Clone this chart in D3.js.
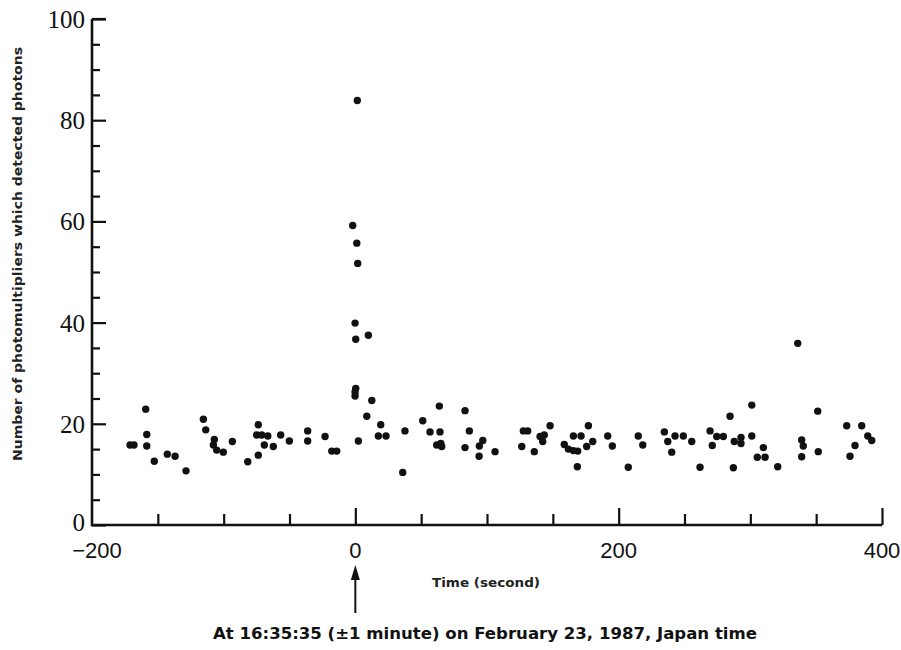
<!DOCTYPE html>
<html>
<head>
<meta charset="utf-8">
<script src="https://cdn.jsdelivr.net/npm/d3@7"></script>
<style>
  html, body { margin: 0; padding: 0; background: #fff; }
  svg { display: block; }
</style>
</head>
<body>
<svg id="chart" width="901" height="650"></svg>
<script>
// Time of each recorded event (seconds relative to the burst)
const times = [
  -171.1, -168.1, -159.2, -158.4, -158.4, -152.7, -142.8, -136.9, -128.6, -115.4,
  -113.6, -107.1, -107.8, -105.3, -100.3, -93.4, -81.7, -73.7, -74.9, -71.1,
  -66.5, -69.1, -73.7, -62.3, -56.7, -50.1, -36.2, -36.2, -23.0, -17.9,
  -14.1, 1.5, -2.0, 1.1, 1.8, -0.2, 0.3, 9.9, 0.3, -0.2,
  -0.2, 12.5, 8.7, 19.3, 17.5, 23.3, 2.3, 37.7, 36.0, 51.2,
  56.7, 63.8, 64.3, 61.8, 64.9, 65.6, 83.3, 86.6, 83.3, 96.8,
  94.2, 94.0, 106.1, 127.6, 130.9, 126.4, 135.9, 147.9, 140.3, 143.5,
  142.3, 158.7, 161.8, 165.6, 168.9, 165.6, 171.4, 177.0, 180.3, 175.7,
  168.6, 191.7, 195.2, 207.3, 214.9, 218.3, 234.7, 237.3, 242.8, 249.1,
  240.3, 255.5, 261.8, 269.4, 274.5, 279.5, 271.1, 284.6, 287.8, 292.9,
  292.9, 301.1, 301.1, 287.1, 309.9, 305.3, 311.2, 320.8, 336.0, 351.2,
  339.0, 340.2, 339.0, 351.6, 373.2, 384.6, 389.2, 392.2, 379.5, 375.7
];

// Number of photomultipliers that fired for each event
const counts = [
  15.8, 15.8, 22.9, 17.9, 15.6, 12.6, 14.0, 13.6, 10.7, 20.9,
  18.8, 16.9, 15.8, 14.8, 14.4, 16.5, 12.5, 19.8, 17.8, 17.8,
  17.6, 15.8, 13.8, 15.5, 17.8, 16.6, 18.6, 16.6, 17.5, 14.6,
  14.6, 83.9, 59.2, 55.7, 51.7, 39.9, 36.7, 37.5, 27.0, 26.3,
  25.5, 24.6, 21.5, 19.8, 17.6, 17.6, 16.6, 18.6, 10.4, 20.6,
  18.4, 23.5, 18.4, 15.8, 16.1, 15.5, 22.6, 18.6, 15.3, 16.7,
  15.6, 13.6, 14.5, 18.6, 18.6, 15.5, 14.5, 19.6, 17.5, 17.8,
  16.5, 15.9, 15.0, 14.7, 14.6, 17.6, 17.6, 19.6, 16.5, 15.5,
  11.5, 17.6, 15.6, 11.4, 17.6, 15.8, 18.4, 16.5, 17.6, 17.6,
  14.4, 16.5, 11.4, 18.6, 17.5, 17.5, 15.7, 21.5, 16.5, 17.3,
  16.1, 23.7, 17.6, 11.3, 15.3, 13.4, 13.4, 11.5, 35.9, 22.5,
  16.8, 15.6, 13.5, 14.5, 19.6, 19.6, 17.6, 16.7, 15.7, 13.6
];

const xMajorTicks = [-200, 0, 200, 400];
const xMinorTicks = [-150, -100, -50, 50, 100, 150, 250, 300, 350];
const yMajorTicks = [0, 20, 40, 60, 80, 100];
const yMinorTicks = [5, 10, 15, 25, 30, 35, 45, 50, 55, 65, 70, 75, 85, 90, 95];

const xTitle = "Time (second)";
const yTitle = "Number of photomultipliers which detected photons";
const caption = "At 16:35:35 (\u00B11 minute) on February 23, 1987, Japan time";

const svg = d3.select("#chart");

const x = d3.scaleLinear().domain([-200, 400]).range([92, 882]);
const y = d3.scaleLinear().domain([0, 100]).range([525, 19]);

const ink = "#111";
const labelFont = "'DejaVu Sans', Verdana, sans-serif";

// Left axis: ticks point into the plot, labels on the outside
const yAxisMajor = d3.axisRight(y).tickValues(yMajorTicks).tickSize(14)
  .tickFormat(d => d);
const yAxisMinor = d3.axisRight(y).tickValues(yMinorTicks).tickSize(8)
  .tickFormat("");

const gyMinor = svg.append("g").attr("transform", `translate(${x(-200)},0)`).call(yAxisMinor);
const gy = svg.append("g").attr("transform", `translate(${x(-200)},0)`).call(yAxisMajor);

[gy, gyMinor].forEach(g => {
  g.select(".domain").remove();
  g.selectAll(".tick line").attr("stroke", ink).attr("stroke-width", 2.2);
});
gy.selectAll(".tick text")
  .attr("x", -7)
  .attr("dy", d => d === 0 ? "0.2em" : "0.34em")
  .attr("text-anchor", "end")
  .attr("fill", ink)
  .style("font-family", "'Liberation Serif', 'DejaVu Serif', serif")
  .style("font-size", "25px");

// Bottom axis: ticks point up into the plot
const xAxisMajor = d3.axisTop(x).tickValues(xMajorTicks.filter(d => d !== -200)).tickSize(17)
  .tickFormat("");
const xAxisMinor = d3.axisTop(x).tickValues(xMinorTicks).tickSize(11).tickFormat("");

const gxMinor = svg.append("g").attr("transform", `translate(0,${y(0)})`).call(xAxisMinor);
const gx = svg.append("g").attr("transform", `translate(0,${y(0)})`).call(xAxisMajor);
[gx, gxMinor].forEach(g => {
  g.select(".domain").remove();
  g.selectAll(".tick line").attr("stroke", ink).attr("stroke-width", 2.2);
});

// Tick labels under the time axis
svg.append("g").selectAll("text")
  .data(xMajorTicks)
  .join("text")
  .attr("x", d => x(d) + (d < 0 ? 5 : 0))
  .attr("y", 558)
  .attr("text-anchor", "middle")
  .attr("fill", ink)
  .style("font-family", "'Liberation Sans', Arial, sans-serif")
  .style("font-size", "22px")
  .text(d => d < 0 ? "\u2212" + Math.abs(d) : d);

// Axis lines
svg.append("path")
  .attr("d", d3.line()([[x(-200), y(100)], [x(-200), y(0)], [x(400), y(0)]]))
  .attr("fill", "none")
  .attr("stroke", ink)
  .attr("stroke-width", 2.6);

// Short cap at the top of the vertical axis
svg.append("line")
  .attr("x1", x(-200)).attr("x2", x(-200) + 14)
  .attr("y1", y(100)).attr("y2", y(100))
  .attr("stroke", ink).attr("stroke-width", 2.2);

// Events
svg.append("g").selectAll("circle")
  .data(times.map((t, i) => ({ t, c: counts[i] })))
  .join("circle")
  .attr("cx", d => x(d.t))
  .attr("cy", d => y(d.c))
  .attr("r", 3.7)
  .attr("fill", ink);

// Axis titles
svg.append("text")
  .attr("transform", `translate(22,254) rotate(-90)`)
  .attr("text-anchor", "middle")
  .attr("textLength", 414)
  .attr("lengthAdjust", "spacingAndGlyphs")
  .attr("fill", "#222")
  .style("font-family", labelFont)
  .style("font-weight", "bold")
  .style("font-size", "12.5px")
  .text(yTitle);

svg.append("text")
  .attr("x", 486)
  .attr("y", 587)
  .attr("text-anchor", "middle")
  .attr("textLength", 108)
  .attr("lengthAdjust", "spacingAndGlyphs")
  .attr("fill", "#222")
  .style("font-family", labelFont)
  .style("font-weight", "bold")
  .style("font-size", "11.5px")
  .text(xTitle);

// Arrow marking the burst time
const arrowX = x(0);
svg.append("line")
  .attr("x1", arrowX).attr("x2", arrowX)
  .attr("y1", 575).attr("y2", 613)
  .attr("stroke", ink).attr("stroke-width", 2);
svg.append("path")
  .attr("d", `M${arrowX},565 L${arrowX - 4.5},580 L${arrowX + 4.5},580 Z`)
  .attr("fill", ink);

svg.append("text")
  .attr("x", 485)
  .attr("y", 639)
  .attr("text-anchor", "middle")
  .attr("textLength", 544)
  .attr("lengthAdjust", "spacingAndGlyphs")
  .attr("fill", ink)
  .style("font-family", labelFont)
  .style("font-weight", "bold")
  .style("font-size", "15.5px")
  .text(caption);
</script>
</body>
</html>
